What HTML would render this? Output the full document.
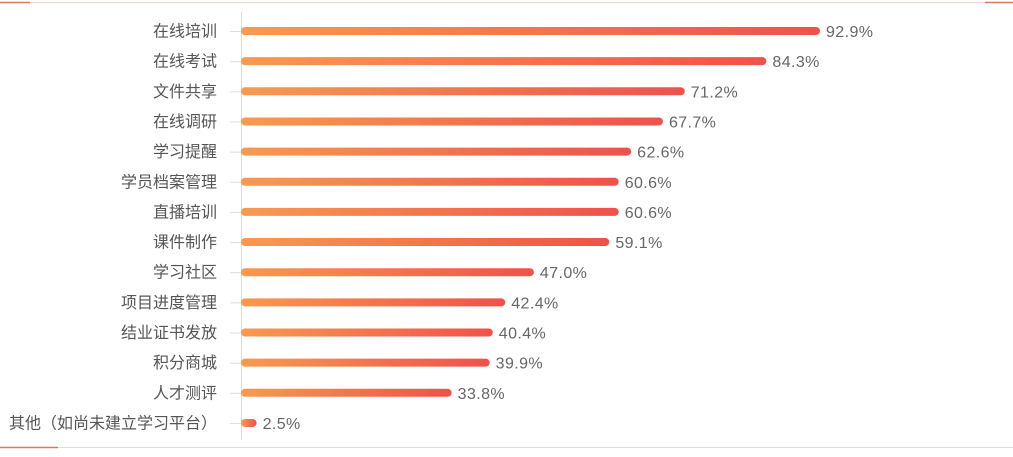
<!DOCTYPE html>
<html><head><meta charset="utf-8"><style>
body{margin:0;background:#fff;}
svg text{font-family:"Liberation Sans","Noto Sans CJK SC",sans-serif;font-size:16px;fill:#555;}
svg text.val{font-size:16px;letter-spacing:0.4px;fill:#666;}
</style></head><body>
<svg width="1013" height="452" xmlns="http://www.w3.org/2000/svg">
<defs><linearGradient id="g" x1="0" x2="1" y1="0" y2="0"><stop offset="0" stop-color="#f89a4f"/><stop offset="1" stop-color="#f0514b"/></linearGradient></defs>
<line x1="0" y1="2.5" x2="1013" y2="2.5" stroke="#f1d6cf" stroke-width="1"/>
<line x1="0" y1="2.5" x2="30" y2="2.5" stroke="#d27a60" stroke-width="1.5"/>
<line x1="985" y1="2.5" x2="1013" y2="2.5" stroke="#d27a60" stroke-width="1.5"/>
<line x1="0" y1="447.5" x2="1013" y2="447.5" stroke="#f1d6cf" stroke-width="1"/>
<line x1="0" y1="447.5" x2="58" y2="447.5" stroke="#d27a60" stroke-width="1.5"/>
<line x1="241.5" y1="12" x2="241.5" y2="440" stroke="#ddd" stroke-width="1"/>
<g id="bars"></g>
</svg>
<script>
const categories=["在线培训","在线考试","文件共享","在线调研","学习提醒","学员档案管理","直播培训","课件制作","学习社区","项目进度管理","结业证书发放","积分商城","人才测评","其他（如尚未建立学习平台）"];
const values=[92.9,84.3,71.2,67.7,62.6,60.6,60.6,59.1,47.0,42.4,40.4,39.9,33.8,2.5];
const labels=["92.9%","84.3%","71.2%","67.7%","62.6%","60.6%","60.6%","59.1%","47.0%","42.4%","40.4%","39.9%","33.8%","2.5%"];
const x0=241, perUnit=(820-241)/92.9;
const xs=v=>x0+v*perUnit;
const ys=i=>31+i*30.15;
const NS="http://www.w3.org/2000/svg";
const g=document.getElementById('bars');
categories.forEach((c,i)=>{
  const y=ys(i);
  const t=document.createElementNS(NS,'line');
  t.setAttribute('x1',230);t.setAttribute('x2',241);t.setAttribute('y1',y+0.5);t.setAttribute('y2',y+0.5);t.setAttribute('stroke','#ddd');
  
  
  g.appendChild(t);
  const l=document.createElementNS(NS,'text');
  l.setAttribute('x',217);l.setAttribute('y',y+5.5);l.setAttribute('text-anchor','end');l.textContent=c;
  
  
  g.appendChild(l);
  const w=xs(values[i])-x0;
  const r=document.createElementNS(NS,'rect');
  r.setAttribute('x',x0);r.setAttribute('y',y-4);r.setAttribute('width',w);r.setAttribute('height',8);r.setAttribute('rx',4);r.setAttribute('fill','url(#g)');
  
  
  g.appendChild(r);
  const v=document.createElementNS(NS,'text');
  v.setAttribute('x',xs(values[i])+6);v.setAttribute('y',y+6);v.setAttribute('class','val');v.textContent=labels[i];
  
  
  g.appendChild(v);
});
</script>
</body></html>
